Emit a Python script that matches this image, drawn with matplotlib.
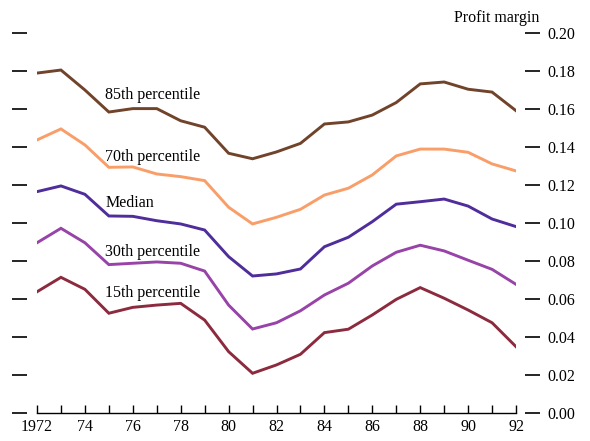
import matplotlib
matplotlib.use("Agg")
import matplotlib.pyplot as plt

plt.rcParams['font.family'] = ['Liberation Serif', 'DejaVu Serif']

# DATA
years = list(range(1972, 1993))
p85 = [0.1789, 0.1805, 0.1700, 0.1584, 0.1602, 0.1602, 0.1538, 0.1504, 0.1367, 0.1338, 0.1374,
       0.1419, 0.1521, 0.1532, 0.1568, 0.1634, 0.1732, 0.1742, 0.1704, 0.1689, 0.1591]
p70 = [0.1437, 0.1495, 0.1411, 0.1293, 0.1295, 0.1258, 0.1244, 0.1223, 0.1083, 0.0995, 0.1030,
       0.1072, 0.1147, 0.1183, 0.1253, 0.1353, 0.1389, 0.1389, 0.1372, 0.1311, 0.1274]
median = [0.1165, 0.1195, 0.1151, 0.1037, 0.1035, 0.1012, 0.0995, 0.0963, 0.0823, 0.0721, 0.0732,
          0.0758, 0.0875, 0.0925, 0.1007, 0.1099, 0.1112, 0.1126, 0.1089, 0.1021, 0.0981]
p30 = [0.0896, 0.0972, 0.0896, 0.0781, 0.0788, 0.0795, 0.0788, 0.0747, 0.0568, 0.0442, 0.0475,
       0.0538, 0.0621, 0.0683, 0.0774, 0.0846, 0.0883, 0.0853, 0.0804, 0.0756, 0.0677]
p15 = [0.0638, 0.0714, 0.0651, 0.0525, 0.0556, 0.0568, 0.0577, 0.0489, 0.0323, 0.0209, 0.0253,
       0.0309, 0.0423, 0.0441, 0.0516, 0.0598, 0.0660, 0.0604, 0.0542, 0.0475, 0.0349]

series_names = ['85th percentile', '70th percentile', 'Median', '30th percentile', '15th percentile']
label_y = [0.1674, 0.1347, 0.1105, 0.0847, 0.0632]
colors = ['#70432A', '#F99E68', '#4F2D9A', '#9843A8', '#8C2A3E']

y_ticks = [i * 0.02 for i in range(11)]
x_labels = ['1972' if y == 1972 else str(y)[2:] for y in range(1972, 1993, 2)]

# PLOT
fig = plt.figure(figsize=(5.9, 4.41), dpi=100)
ax = fig.add_axes([0.0627, 0.0635, 0.8119, 0.8617])

for vals, col in zip([p85, p70, median, p30, p15], colors):
    ax.plot(years, vals, color=col, lw=2.1, solid_joinstyle='miter')

for name, ly in zip(series_names, label_y):
    ax.text(1974.85, ly, name, fontsize=11.5, va='center', ha='left')

ax.set_xlim(1972, 1992)
ax.set_ylim(0, 0.2)

ax.spines['top'].set_visible(False)
ax.spines['left'].set_position(('outward', 18))
ax.spines['right'].set_position(('outward', 17.3))
ax.spines['left'].set_visible(False)
ax.spines['right'].set_visible(False)
ax.spines['bottom'].set_linewidth(1.0)

ax.set_yticks(y_ticks)
ax.yaxis.set_ticks_position('both')
ax.tick_params(axis='y', direction='in', length=10.5, width=1.2, labelleft=False,
               labelright=True, labelsize=11.5, pad=5)
ax.set_yticklabels(['%.2f' % v for v in y_ticks])

ax.set_xticks(list(range(1972, 1993, 2)))
ax.set_xticks(years, minor=True)
ax.set_xticklabels(x_labels)
ax.tick_params(axis='x', which='both', direction='in', length=5.8, width=1.0,
               labelsize=11.5, pad=4.5)

fig.text(0.915, 0.959, 'Profit margin', fontsize=11.5, ha='right', va='center')

fig.savefig('out.png', dpi=100)
